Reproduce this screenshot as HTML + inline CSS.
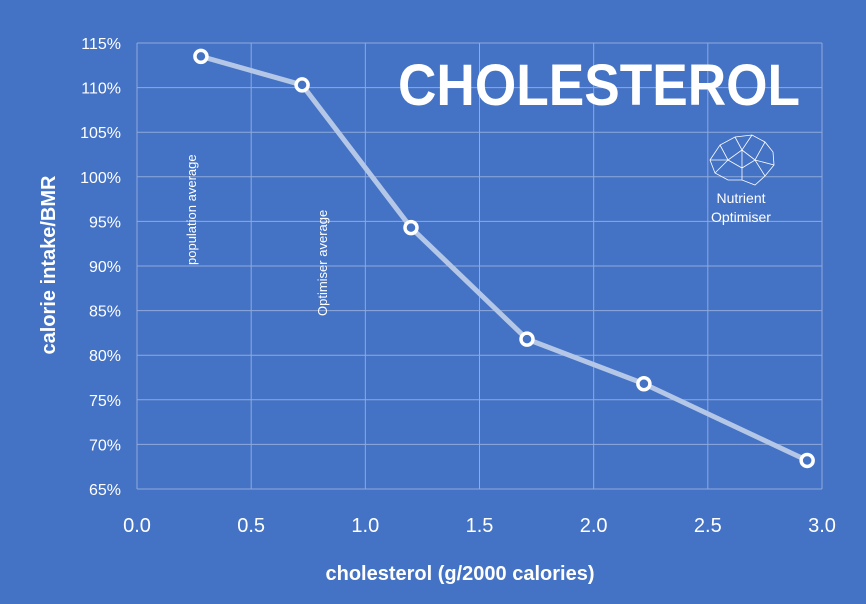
<!DOCTYPE html>
<html><head><meta charset="utf-8"><style>
body{margin:0;background:#4472C4;}
svg{display:block;font-family:"Liberation Sans",sans-serif;}
</style></head><body>
<svg id="chart" width="866" height="604" viewBox="0 0 866 604">
<rect width="866" height="604" fill="#4472C4"/>
<g id="grid"></g>
<g id="ticks"></g>
<text x="398" y="105" fill="#fff" font-size="58" font-weight="bold" textLength="402" lengthAdjust="spacingAndGlyphs">CHOLESTEROL</text>
<g stroke="#fff" stroke-width="0.8" fill="none">
<path d="M710,160 L720,145 L735,137 L752,135 L765,142 L773,152 L774,165 L765,176 L755,185 L742,180 L728,180 L715,173 Z M720,145 L728,160 L742,150 L752,135 M728,160 L715,173 M742,150 L755,160 L765,142 M755,160 L774,165 M742,150 L742,180 M728,160 L742,168 L755,160 L765,176 M735,137 L742,150 M710,160 L728,160"/>
</g>
<text x="741" y="203" fill="#fff" font-size="14" text-anchor="middle">Nutrient</text>
<text x="741" y="222" fill="#fff" font-size="14" text-anchor="middle">Optimiser</text>
<text transform="translate(196,265) rotate(-90)" fill="#fff" font-size="13">population average</text>
<text transform="translate(327,316) rotate(-90)" fill="#fff" font-size="13">Optimiser average</text>
<text x="460" y="580" fill="#fff" font-size="20" font-weight="bold" text-anchor="middle">cholesterol (g/2000 calories)</text>
<text transform="translate(55,265) rotate(-90)" fill="#fff" font-size="20" font-weight="bold" text-anchor="middle">calorie intake/BMR</text>
<g id="series"></g>
</svg>
<script>
const xTicks=[0,0.5,1,1.5,2,2.5,3];
const xTickLabels=["0.0","0.5","1.0","1.5","2.0","2.5","3.0"];
const yTicks=[65,70,75,80,85,90,95,100,105,110,115];
const xValues=[0.28,0.723,1.2,1.708,2.22,2.935];
const yValues=[113.5,110.3,94.3,81.8,76.8,68.2];
const NS="http://www.w3.org/2000/svg";
const X=v=>137+v*(822-137)/3;
const Y=v=>489-(v-65)*(489-43)/50;
function mk(t,a,p){const e=document.createElementNS(NS,t);for(const k in a)e.setAttribute(k,a[k]);p.appendChild(e);return e;}
const grid=document.getElementById('grid'),ticks=document.getElementById('ticks'),ser=document.getElementById('series');
xTicks.forEach((v,i)=>{
 const l=mk('line',{x1:X(v),x2:X(v),y1:Y(115),y2:Y(65),stroke:'#8FAADC','stroke-width':1},grid);
 
 
 const t=mk('text',{x:X(v),y:532,fill:'#fff','font-size':20,'text-anchor':'middle'},ticks);
 t.textContent=xTickLabels[i];
 
 
});
yTicks.forEach(v=>{
 const l=mk('line',{x1:X(0),x2:X(3),y1:Y(v),y2:Y(v),stroke:'#8FAADC','stroke-width':1},grid);
 
 
 const t=mk('text',{x:121,y:Y(v)+6,fill:'#fff','font-size':16,'text-anchor':'end'},ticks);
 t.textContent=v+'%';
 
 
});
const pts=xValues.map((x,i)=>X(x)+','+Y(yValues[i])).join(' ');
const pl=mk('polyline',{points:pts,fill:'none',stroke:'#B4C7E7','stroke-width':5,'stroke-linejoin':'round'},ser);


xValues.forEach((x,i)=>{
 const c=mk('circle',{cx:X(x),cy:Y(yValues[i]),r:6,fill:'#4472C4',stroke:'#fff','stroke-width':3.5},ser);
 
 
});
</script>
</body></html>
